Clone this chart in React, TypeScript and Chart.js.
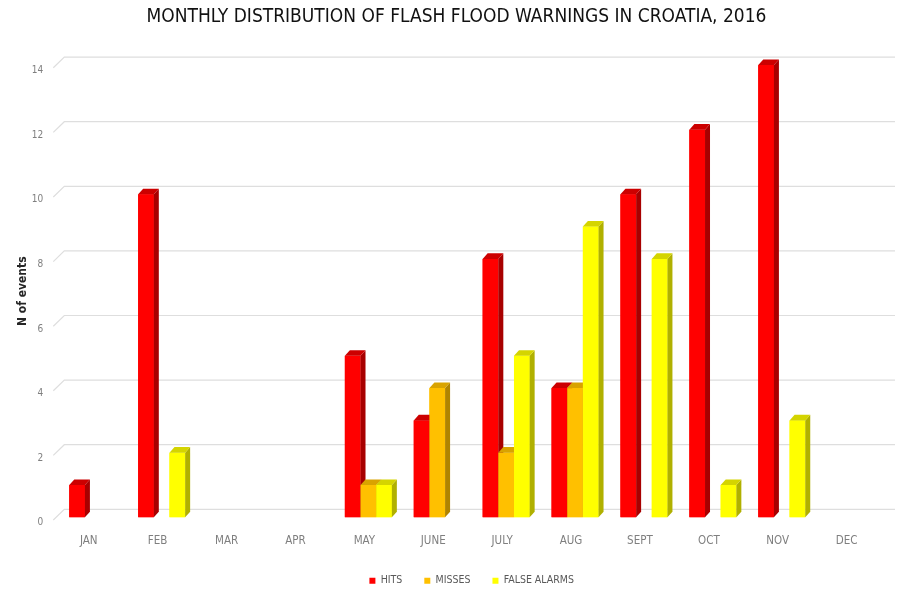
import React, { useEffect, useRef } from "react";
import { Chart, registerables } from "chart.js";

Chart.register(...registerables);

const months = ["JAN", "FEB", "MAR", "APR", "MAY", "JUNE", "JULY", "AUG", "SEPT", "OCT", "NOV", "DEC"];
const hits = [1, 10, 0, 0, 5, 3, 8, 4, 10, 12, 14, 0];
const misses = [0, 0, 0, 0, 1, 4, 2, 4, 0, 0, 0, 0];
const falseAlarms = [0, 2, 0, 0, 1, 0, 5, 9, 8, 1, 3, 0];
const yTicks = [0, 2, 4, 6, 8, 10, 12, 14];

const NARROW = "'DejaVu Sans Condensed', 'DejaVu Sans', sans-serif";

const frontColors = ["#ff0000", "#ffc000", "#ffff00"];
const sideColors = ["#a80000", "#b08400", "#b0b000"];
const capColors = ["#cc0000", "#d9a300", "#d4d400"];

const DX = 5;
const DY = 5.6;

const backGrid = {
  id: "backGrid",
  beforeDatasetsDraw(chart: any) {
    const { ctx, chartArea, scales } = chart;
    const y = scales.y;
    ctx.save();
    ctx.strokeStyle = "#dedede";
    ctx.lineWidth = 1.2;
    y.ticks.forEach((t: any) => {
      const py = y.getPixelForValue(t.value);
      ctx.beginPath();
      ctx.moveTo(chartArea.left - 5, py + 2.7);
      ctx.lineTo(chartArea.left + 6, py - 8);
      ctx.lineTo(chart.width - 3, py - 8);
      ctx.stroke();
    });
    ctx.restore();
  },
};

const bar3d = {
  id: "bar3d",
  afterDatasetsDraw(chart: any) {
    const { ctx } = chart;
    const datasets = chart.data.datasets;
    ctx.save();
    for (let i = 0; i < chart.data.labels.length; i++) {
      for (let d = 0; d < datasets.length; d++) {
        const v = datasets[d].data[i];
        if (!v) continue;
        const el = chart.getDatasetMeta(d).data[i];
        const { x, y, base, width } = el.getProps(["x", "y", "base", "width"], true);
        const l = x - width / 2;
        const r = x + width / 2;
        ctx.fillStyle = frontColors[d];
        ctx.fillRect(l, y, width, base - y);
        ctx.fillStyle = sideColors[d];
        ctx.beginPath();
        ctx.moveTo(r, y);
        ctx.lineTo(r + DX, y - DY);
        ctx.lineTo(r + DX, base - DY);
        ctx.lineTo(r, base);
        ctx.closePath();
        ctx.fill();
        ctx.fillStyle = capColors[d];
        ctx.beginPath();
        ctx.moveTo(l, y);
        ctx.lineTo(l + DX, y - DY);
        ctx.lineTo(r + DX, y - DY);
        ctx.lineTo(r, y);
        ctx.closePath();
        ctx.fill();
      }
    }
    ctx.restore();
  },
};

export default function App() {
  const ref = useRef<HTMLCanvasElement>(null);
  useEffect(() => {
    document.body.style.margin = "0";
    const chart = new Chart(ref.current as HTMLCanvasElement, {
      type: "bar",
      data: {
        labels: months,
        datasets: [
          { label: "HITS", data: hits, backgroundColor: frontColors[0] },
          { label: "MISSES", data: misses, backgroundColor: frontColors[1] },
          { label: "FALSE ALARMS", data: falseAlarms, backgroundColor: frontColors[2] },
        ],
      },
      options: {
        responsive: false,
        animation: false,
        layout: { padding: { left: 15, right: 0, top: 0, bottom: -6 } },
        datasets: { bar: { categoryPercentage: 0.682, barPercentage: 1.0 } },
        plugins: {
          title: {
            display: true,
            text: "MONTHLY DISTRIBUTION OF FLASH FLOOD WARNINGS IN CROATIA, 2016",
            font: { family: NARROW, size: 19, weight: "normal" },
            color: "#111111",
            padding: { top: 5.8, bottom: 36.5 },
          },
          legend: {
            position: "bottom",
            fullSize: false,
            labels: {
              boxWidth: 6,
              boxHeight: 6,
              padding: 22,
              color: "#595959",
              font: { family: NARROW, size: 10.5 },
            },
          },
          tooltip: { enabled: false },
        },
        scales: {
          x: {
            grid: { display: false, drawTicks: false },
            border: { display: false },
            ticks: {
              color: "#7f7f7f",
              font: { family: NARROW, size: 11.5 },
              padding: 17.1,
              labelOffset: -4,
            },
            afterFit: (s: any) => {
              s.height = 36.2;
            },
          },
          y: {
            min: 0,
            max: 14,
            afterBuildTicks: (s: any) => {
              s.ticks = yTicks.map((v) => ({ value: v }));
            },
            grid: { display: false, drawTicks: false },
            border: { display: false },
            ticks: {
              color: "#7f7f7f",
              font: { family: NARROW, size: 10 },
              padding: 15,
              labelOffset: 5.5,
            },
            title: {
              display: true,
              text: "N of events",
              color: "#262626",
              font: { family: NARROW, size: 12, weight: "bold" },
              padding: { top: 0.5, bottom: 0 },
            },
            afterFit: (s: any) => {
              s.width = 43.3;
            },
          },
          y2: {
            position: "right",
            display: true,
            min: 0,
            max: 14,
            grid: { display: false, drawTicks: false },
            border: { display: false },
            ticks: { display: false },
            afterFit: (s: any) => {
              s.width = 12.9;
            },
          },
        },
      },
      plugins: [backGrid, bar3d],
    } as any);
    return () => chart.destroy();
  }, []);
  return (
    <div style={{ width: 898, height: 590, background: "#ffffff" }}>
      <canvas ref={ref} width={898} height={590} style={{ display: "block" }} />
    </div>
  );
}
